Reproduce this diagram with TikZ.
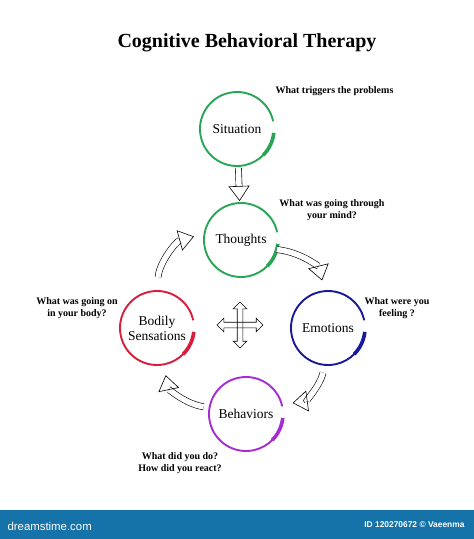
\documentclass[tikz,border=0pt]{standalone}
\usepackage{fontspec}
\setmainfont{Liberation Serif}
\newfontfamily\barfont{Liberation Sans}
\usetikzlibrary{arrows.meta, shapes.arrows}
\definecolor{sitgreen}{RGB}{40,165,85}
\definecolor{emoblue}{RGB}{25,25,155}
\definecolor{bodyred}{RGB}{215,30,60}
\definecolor{behpurple}{RGB}{165,45,210}
\definecolor{barblue}{RGB}{22,115,170}

\begin{document}
\begin{tikzpicture}[x=1pt, y=-1pt,
        stage/.style={circle, minimum size=74pt, inner sep=0pt, outer sep=0pt, align=center, font=\fontsize{13.5}{15}\selectfont},
        ask/.style={align=center, font=\fontsize{10}{12}\selectfont\bfseries},
        hollow/.style={double=white, double distance=5.5pt, line width=0.6pt, -{Triangle[open, length=15pt, width=21pt]}},
        cross/.style={double arrow, draw, line width=0.6pt, minimum height=46pt, inner xsep=0pt, inner ysep=2.5pt, double arrow head extend=4pt, double arrow head indent=0pt}]

    \useasboundingbox (0,0) rectangle (474,539);
    \fill[barblue] (0,510) rectangle (474,539);

    \node[font=\fontsize{20}{24}\selectfont\bfseries] (title) at (247,43) {Cognitive Behavioral Therapy};

    \node[stage] (sit) at (237,129) {Situation};
    \node[stage] (tho) at (241,240) {Thoughts};
    \node[stage] (body) at (157,328) {Bodily\\Sensations};
    \node[stage] (emo) at (328,328) {Emotions};
    \node[stage] (beh) at (246,414) {Behaviors};

    % brush-like rings
    \foreach \n/\c in {sit/sitgreen, tho/sitgreen, body/bodyred, emo/emoblue, beh/behpurple} {
        \draw[\c, line width=1.9pt] (\n.12) arc[start angle=12, end angle=350, radius=37pt];
        \draw[\c, line width=3.6pt] (\n.-45) arc[start angle=-45, end angle=-6, radius=37pt];
    }

    \node[ask, anchor=west] (trig) at (272,91) {What triggers the problems};
    \node[ask] (mind) at (332,210) {What was going through\\your mind?};
    \node[ask] (bodyq) at (77,308) {What was going on\\in your body?};
    \node[ask] (feel) at (397,308) {What were you\\feeling ?};
    \node[ask] (react) at (180,463) {What did you do?\\How did you react?};

    \draw[hollow, shorten <=2pt, shorten >=2pt] (sit) -- (tho);
    \draw[hollow, shorten >=11pt] (tho.-15) to[bend left=35] (emo.95);
    \draw[hollow, shorten <=8pt, shorten >=11pt] (emo.-95) to[bend left=35] (beh.15);
    \draw[hollow, shorten <=6pt, shorten >=11pt] (beh.170) to[bend left=35] (body.-80);
    \draw[hollow, shorten <=14pt, shorten >=11pt] (body.90) to[bend left=35] (tho.170);

    % four-way arrow in the middle
    \node[cross] (hubh) at (240,325) {};
    \node[cross, rotate=90] (hubv) at (240,325) {};

    \node[white, anchor=west, font=\barfont\fontsize{11.4}{13}\selectfont] (site) at (4,526) {dreamstime.com};
    \node[white, anchor=east, font=\barfont\fontsize{8.4}{10}\selectfont\bfseries] (stock) at (468,525) {ID 120270672 \textcopyright{} Vaeenma};
\end{tikzpicture}
\end{document}
